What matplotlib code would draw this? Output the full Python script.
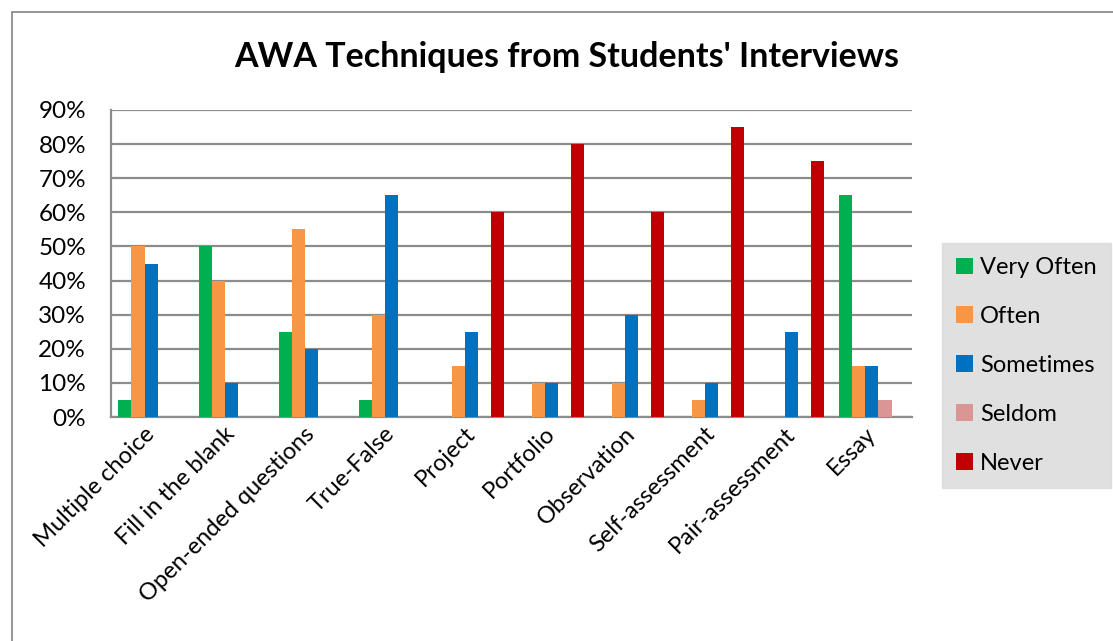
import matplotlib.pyplot as plt
import numpy as np
from matplotlib.patches import Rectangle

plt.rcParams['font.family'] = ['Lato', 'DejaVu Sans']

categories = ["Multiple choice", "Fill in the blank", "Open-ended questions", "True-False",
              "Project", "Portfolio", "Observation", "Self-assessment", "Pair-assessment", "Essay"]
series_names = ["Very Often", "Often", "Sometimes", "Seldom", "Never"]
very_often = [5, 50, 25, 5, 0, 0, 0, 0, 0, 65]
often = [50, 40, 55, 30, 15, 10, 10, 5, 0, 15]
sometimes = [45, 10, 20, 65, 25, 10, 30, 10, 25, 15]
seldom = [0, 0, 0, 0, 0, 0, 0, 0, 0, 5]
never = [0, 0, 0, 0, 60, 80, 60, 85, 75, 0]
colors = ["#00b050", "#f79646", "#0070c0", "#da9694", "#c00000"]

W, H = 1113, 641
fig = plt.figure(figsize=(W / 100, H / 100), dpi=100)
ax = fig.add_axes([111 / W, 1 - 417 / H, (912 - 111) / W, (417 - 110) / H])

x = np.arange(len(categories))
bw = 0.163
for i, (name, vals, c) in enumerate(zip(series_names,
                                        [very_often, often, sometimes, seldom, never], colors)):
    ax.bar(x + (i - 2) * bw, np.array(vals) / 100, width=bw, color=c, label=name, zorder=3)

ax.set_xlim(-0.5, len(categories) - 0.5)
ax.set_ylim(0, 0.9)
ax.set_yticks(np.arange(0, 0.91, 0.1))
ax.set_yticklabels([f"{int(round(v * 100))}%" for v in np.arange(0, 0.91, 0.1)], fontsize=17.5)
ax.yaxis.grid(True, color="#8c8c8c", linewidth=1.6, zorder=0)
ax.tick_params(axis="y", length=0, pad=18)
ax.tick_params(axis="x", length=0, pad=2)
ax.set_xticks(x)
ax.set_xticklabels(categories, rotation=45, ha="right", va="center",
                   rotation_mode="anchor", fontsize=17)
for lbl in ax.get_xticklabels():
    lbl.set_y(-0.035)
for s in ["top", "right"]:
    ax.spines[s].set_visible(False)
for s in ["left", "bottom"]:
    ax.spines[s].set_color("#8c8c8c")
    ax.spines[s].set_linewidth(1.6)

fig.text(567 / W, 1 - 57 / H, "AWA Techniques from Students' Interviews",
         ha="center", va="center", fontsize=24.5, fontweight="bold")

# legend panel
leg = fig.legend(loc="upper left", bbox_to_anchor=(942 / W, 1 - 243 / H), frameon=True,
                 fontsize=17, handlelength=0.7, handleheight=0.7, handletextpad=0.3,
                 labelspacing=1.18, borderpad=0.6, borderaxespad=0)
leg.get_frame().set_facecolor("#d9d9d9")
leg.get_frame().set_edgecolor("#d9d9d9")
leg.get_frame().set_boxstyle("square", pad=0)

# outer chart border
fig.add_artist(Rectangle((12 / W, -0.05), 1.2, 1 - 12 / H + 0.05, transform=fig.transFigure,
                         fill=False, edgecolor="#8c8c8c", linewidth=1.3))

fig.savefig("out.png", dpi=100, facecolor="white")
